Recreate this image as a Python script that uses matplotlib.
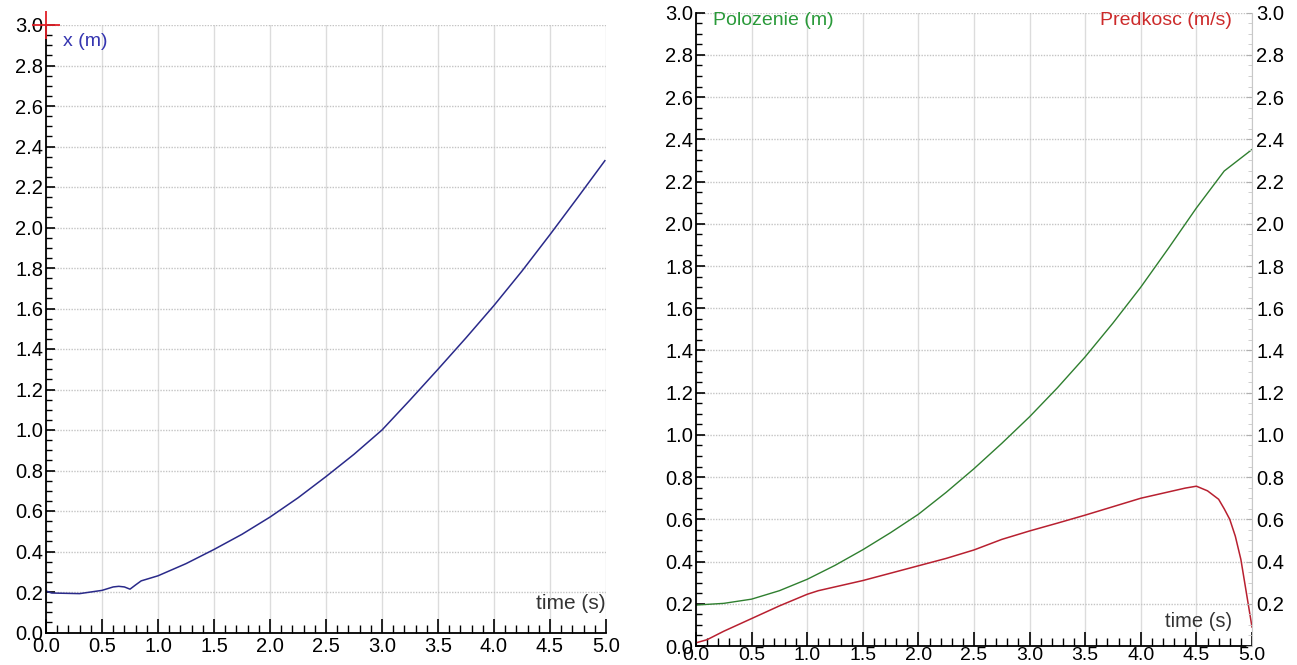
from matplotlib import pyplot as plt
from matplotlib.ticker import MultipleLocator, FuncFormatter

plt.rcParams['font.family'] = ['Liberation Sans', 'DejaVu Sans']

# left panel: position x(t)
t_left = [0.0, 0.05, 0.3, 0.5, 0.6, 0.65, 0.7, 0.75, 0.8, 0.85, 1.0, 1.25, 1.5, 1.75, 2.0,
          2.25, 2.5, 2.75, 3.0, 3.25, 3.5, 3.75, 4.0, 4.25, 4.5, 4.75, 4.99]
x_left = [0.205, 0.195, 0.192, 0.208, 0.225, 0.228, 0.225, 0.214, 0.235, 0.255, 0.28, 0.34,
          0.41, 0.485, 0.57, 0.665, 0.77, 0.88, 1.0, 1.148, 1.30, 1.455, 1.615, 1.785, 1.965,
          2.15, 2.33]

# right panel: position (green) and velocity (red)
t_pos = [0.0, 0.25, 0.5, 0.75, 1.0, 1.25, 1.5, 1.75, 2.0, 2.25, 2.5, 2.75, 3.0, 3.25, 3.5,
         3.75, 4.0, 4.25, 4.5, 4.75, 5.0]
pos = [0.194, 0.202, 0.222, 0.262, 0.316, 0.382, 0.456, 0.537, 0.624, 0.728, 0.840, 0.960,
       1.086, 1.223, 1.370, 1.530, 1.700, 1.885, 2.075, 2.250, 2.352]
t_vel = [0.0, 0.1, 0.25, 0.5, 0.75, 1.0, 1.1, 1.25, 1.5, 1.75, 2.0, 2.25, 2.5, 2.75, 3.0, 3.25,
         3.5, 3.75, 4.0, 4.25, 4.4, 4.5, 4.6, 4.7, 4.75, 4.8, 4.85, 4.9, 4.95, 5.0]
vel = [0.015, 0.03, 0.07, 0.13, 0.19, 0.245, 0.262, 0.28, 0.31, 0.345, 0.38, 0.415, 0.455,
       0.505, 0.545, 0.582, 0.62, 0.66, 0.70, 0.73, 0.748, 0.757, 0.735, 0.695, 0.65, 0.60,
       0.52, 0.41, 0.25, 0.09]

fig = plt.figure(figsize=(12.97, 6.65), dpi=100)
ax1 = fig.add_axes([46 / 1297, 1 - 632.5 / 665, 560 / 1297, 607.5 / 665])
ax2 = fig.add_axes([696 / 1297, 1 - 646 / 665, 556 / 1297, 633.3 / 665])

fmt = FuncFormatter(lambda v, p: f"{v:.1f}")


def style_axes(ax, xpad=3):
    ax.set_xlim(0, 5)
    ax.set_ylim(0, 3)
    ax.xaxis.set_major_locator(MultipleLocator(0.5))
    ax.xaxis.set_minor_locator(MultipleLocator(0.1))
    ax.yaxis.set_major_locator(MultipleLocator(0.2))
    ax.yaxis.set_minor_locator(MultipleLocator(0.05))
    ax.xaxis.set_major_formatter(fmt)
    ax.yaxis.set_major_formatter(fmt)
    ax.tick_params(which='both', direction='in', colors='black', labelsize=14.5)
    ax.tick_params(axis='x', which='major', length=10, width=1.2, pad=xpad)
    ax.tick_params(axis='x', which='minor', length=5.5, width=1.0)
    ax.tick_params(axis='y', which='major', length=6.5, width=1.2, pad=2)
    ax.tick_params(axis='y', which='minor', length=4, width=1.0)
    for s in ['top', 'right']:
        ax.spines[s].set_visible(False)
    for s in ['left', 'bottom']:
        ax.spines[s].set_linewidth(1.3)
    ax.grid(axis='x', which='major', color='#dcdcdc', lw=1.0, ls='-')
    ax.grid(axis='y', which='major', color='#c4c4c4', lw=1.0, ls=(0, (1, 1)))
    ax.set_axisbelow(True)


style_axes(ax1)
ax1.plot(t_left, x_left, color='#2a2a8a', lw=1.1)
ax1.text(0.15, 2.92, 'x (m)', color='#3535b0', fontsize=14, va='center', ha='left')
ax1.text(5.0, 0.145, 'time (s)', color='#333333', fontsize=15, ha='right', va='center')
ax1.plot([0], [3.0], marker='+', color='#e02028', markersize=20, mew=1.3, clip_on=False,
         zorder=5)

style_axes(ax2, xpad=1)
ax2.tick_params(axis='x', labelsize=14)
ax2.plot(t_pos, pos, color='#2f7f2f', lw=1.0)
ax2.plot(t_vel, vel, color='#b82030', lw=1.1)
ax2.text(0.15, 2.965, 'Polozenie (m)', color='#2a9a3a', fontsize=14, va='center', ha='left')
ax2.text(4.82, 2.965, 'Predkosc (m/s)', color='#cc2a2a', fontsize=14, va='center',
         ha='right')
ax2.text(4.82, 0.115, 'time (s)', color='#333333', fontsize=14.5, ha='right', va='center')

axr = ax2.twinx()
axr.set_ylim(0, 3)
axr.yaxis.set_major_locator(MultipleLocator(0.2))
axr.yaxis.set_minor_locator(MultipleLocator(0.05))
axr.yaxis.set_major_formatter(FuncFormatter(lambda v, p: "" if v < 0.1 else f"{v:.1f}"))
axr.tick_params(which='major', direction='in', length=4, color='#b0b0b0', labelsize=14.5,
                pad=3)
axr.tick_params(which='minor', direction='in', length=3, color='#c8c8c8')
for s in ['top', 'left', 'bottom']:
    axr.spines[s].set_visible(False)
axr.spines['right'].set_color('#c8c8c8')

fig.savefig('out.png', dpi=100)
